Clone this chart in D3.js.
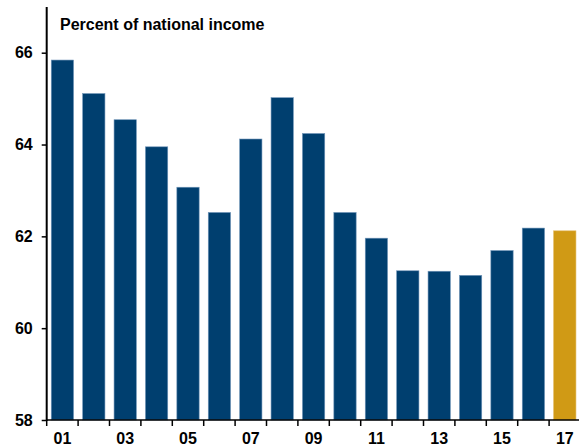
<!DOCTYPE html>
<html><head><meta charset="utf-8">
<script src="https://cdn.jsdelivr.net/npm/d3@7"></script>
<style>
html,body{margin:0;padding:0;background:#fff;}
svg{display:block;font-family:"Liberation Sans",Arial,sans-serif;}
</style></head>
<body>
<svg id="c" width="579" height="446"></svg>
<script>
const years = ["01","02","03","04","05","06","07","08","09","10","11","12","13","14","15","16","17"];
const values = [65.84,65.11,64.54,63.95,63.07,62.52,64.12,65.02,64.24,62.52,61.96,61.25,61.24,61.15,61.69,62.18,62.12];
const yTicks = [58,60,62,64,66];
const xLabels = ["01","03","05","07","09","11","13","15","17"];
const title = "Percent of national income";

const svg = d3.select("#c");
const x0 = 46.7, bandW = 31.4;
const x = d3.scaleBand().domain(years).range([x0, x0 + bandW*years.length]).paddingInner(0.29).paddingOuter(0.145);
const y = d3.scaleLinear().domain([58,66]).range([420,52.7]);

svg.append("g").selectAll("rect").data(values).join("rect")
  .attr("x",(d,i)=>x(years[i]))
  .attr("width",x.bandwidth())
  .attr("y",d=>y(d))
  .attr("height",d=>y(58)-y(d))
  .attr("fill",(d,i)=>i===years.length-1?"#D09A15":"#003F6F")
  .attr("stroke",(d,i)=>i===years.length-1?"#e0b860":"#6f94b8")
  .attr("stroke-width",0.6);

// y axis
const ya = svg.append("g").attr("transform",`translate(${x0},0)`)
  .call(d3.axisLeft(y).tickValues(yTicks).tickSize(5).tickPadding(9).tickFormat(d3.format("d")));
ya.select(".domain").remove();
ya.selectAll("line").attr("stroke","#000").attr("stroke-width",1.5);
ya.selectAll("text").attr("font-size",16).attr("font-weight","bold").attr("fill","#000").attr("font-family","Liberation Sans, Arial, sans-serif");
svg.append("line").attr("x1",x0).attr("x2",x0).attr("y1",7).attr("y2",y(58)+1).attr("stroke","#000").attr("stroke-width",2);

// x axis
const xb = svg.append("g").attr("transform",`translate(0,${y(58)})`);
const bounds = d3.range(years.length).map(i=>x0+i*bandW);
xb.append("line").attr("x1",x0).attr("x2",579).attr("stroke","#000").attr("stroke-width",1.5);
xb.selectAll("line.t").data(bounds).join("line").attr("class","t")
  .attr("x1",d=>d).attr("x2",d=>d).attr("y1",0).attr("y2",6).attr("stroke","#000").attr("stroke-width",1.5);
xb.selectAll("text").data(xLabels).join("text")
  .attr("x",d=>x(d)+x.bandwidth()/2)
  .attr("y",24)
  .attr("text-anchor","middle")
  .attr("font-size",16).attr("font-weight","bold").attr("fill","#000")
  .text(d=>d);

svg.append("text").attr("x",60).attr("y",29.5).attr("font-size",16).attr("font-weight","bold").attr("fill","#000").text(title);
</script>
</body></html>
